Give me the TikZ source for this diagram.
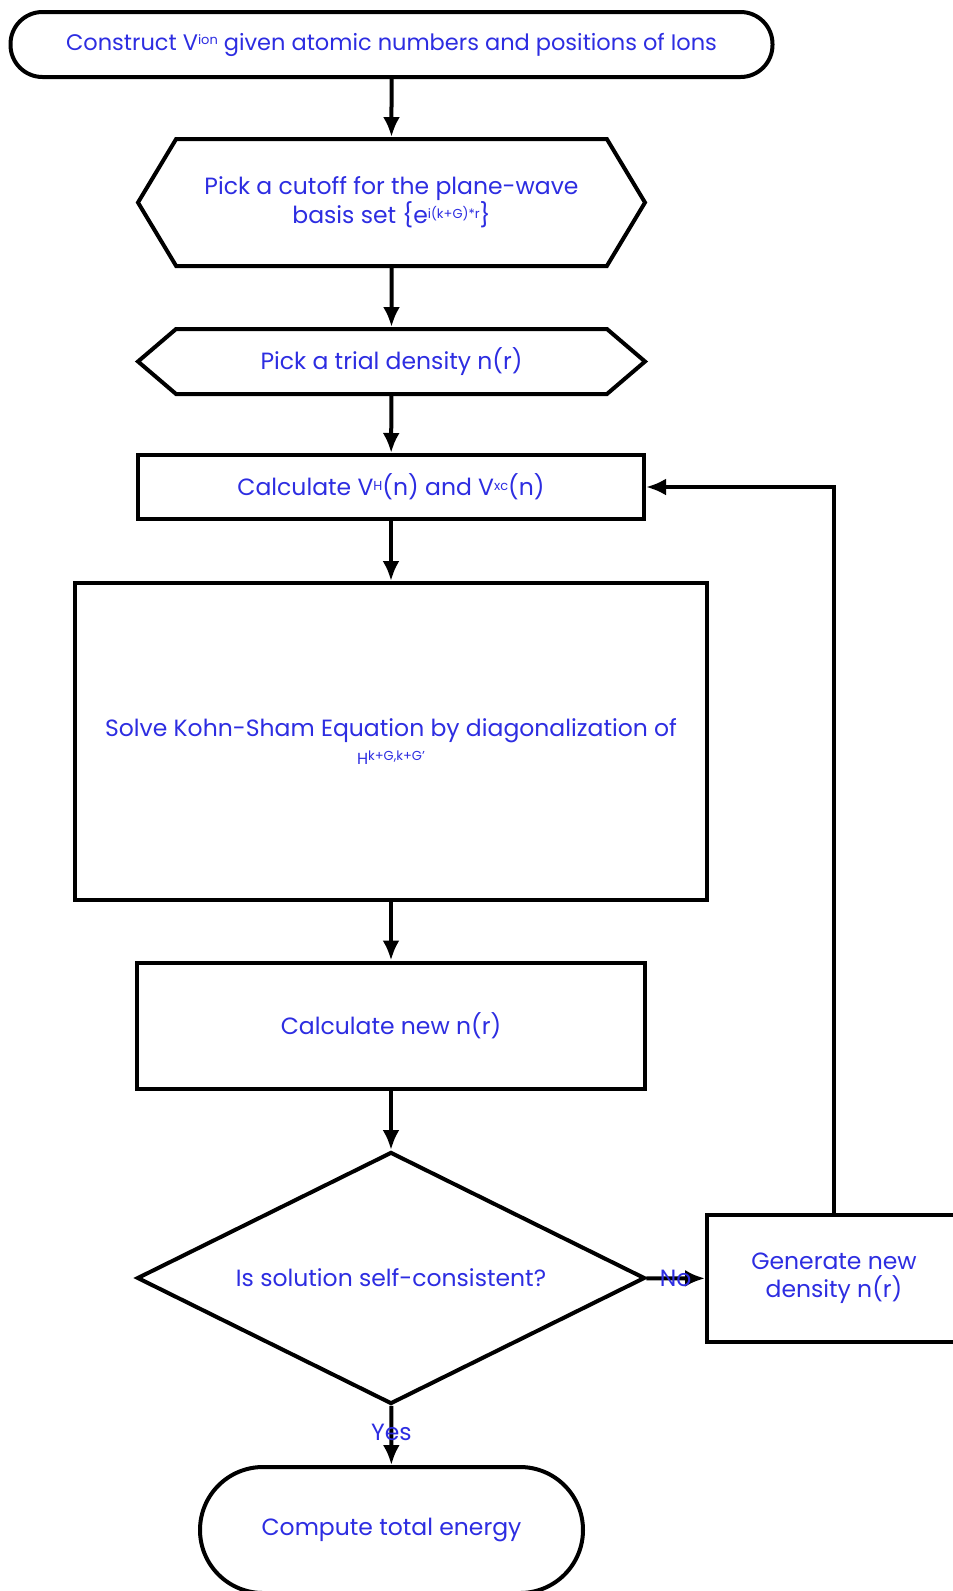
\documentclass[tikz,border=0pt]{standalone}
\usepackage{fontspec}
\setmainfont{Poppins}
\usetikzlibrary{arrows.meta,shapes.geometric,shapes.symbols}
\definecolor{txtblue}{RGB}{45,45,225}
\newcommand\hsup[1]{\raisebox{0.45ex}{\fontsize{13}{13}\selectfont #1}}
\tikzset{
  base/.style={draw,text=txtblue,font=\fontsize{23.5}{28}\selectfont,align=center,inner sep=0pt},
  term/.style={base,rectangle,rounded corners=#1},
  hexa/.style={base,signal,signal to=west and east},
  box/.style={base,rectangle},
  decide/.style={base,diamond,aspect=2},
  lbl/.style={text=txtblue,font=\fontsize{23.5}{28}\selectfont,inner sep=0pt},
}

\begin{document}
\begin{tikzpicture}[x=1pt,y=-1pt,line width=4pt,every path/.style={>={Latex[length=20pt,width=17pt]}}]
\useasboundingbox (0,0) rectangle (953,1591);
\node[term=32pt,minimum width=762pt,minimum height=65pt,font=\fontsize{22.5}{26}\selectfont] (start) at (391.5,44.5) {Construct V\hsup{ion} given atomic numbers and positions of Ions};
\node[hexa,signal pointer angle=118,minimum width=507pt,minimum height=127pt] (cutoff) at (391.5,202.5) {Pick a cutoff for the plane-wave\\basis set \{e\hsup{i(k+G)*r}\}};
\node[hexa,signal pointer angle=81,minimum width=507pt,minimum height=65pt]  (trial)  at (391.5,361.5) {Pick a trial density n(r)};
\node[box,minimum width=506pt,minimum height=64pt]         (pot)    at (391,487)     {Calculate V\hsup{H}(n) and V\hsup{xc}(n)};
\node[box,minimum width=632pt,minimum height=317pt]        (ks)     at (391,741.5)   {Solve Kohn-Sham Equation by diagonalization of\\{\fontsize{16}{20}\selectfont H\hsup{k+G,k+G'}}};
\node[box,minimum width=508pt,minimum height=126pt]        (newn)   at (391,1025.5)  {Calculate new n(r)};
\node[decide,minimum width=508pt,minimum height=252pt]     (check)  at (391,1278)    {Is solution self-consistent?};
\node[box,minimum width=254pt,minimum height=127pt]        (gen)    at (834,1278.5)  {Generate new\\density n(r)};
\node[term=63pt,minimum width=383pt,minimum height=126pt]  (finish) at (391.5,1530)  {Compute total energy};
\draw[->] (start)  edge (cutoff);
\draw[->] (cutoff) edge (trial);
\draw[->] (trial)  edge (pot);
\draw[->] (pot)    edge (ks);
\draw[->] (ks)     edge (newn);
\draw[->] (newn)   edge (check);
\draw[->] (check)  edge node[lbl] {No} (gen);
\draw[->] (check)  edge node[lbl,pos=0.45] {Yes} (finish);
\draw[->] (gen.north) |- (pot.east);
\end{tikzpicture}
\end{document}
